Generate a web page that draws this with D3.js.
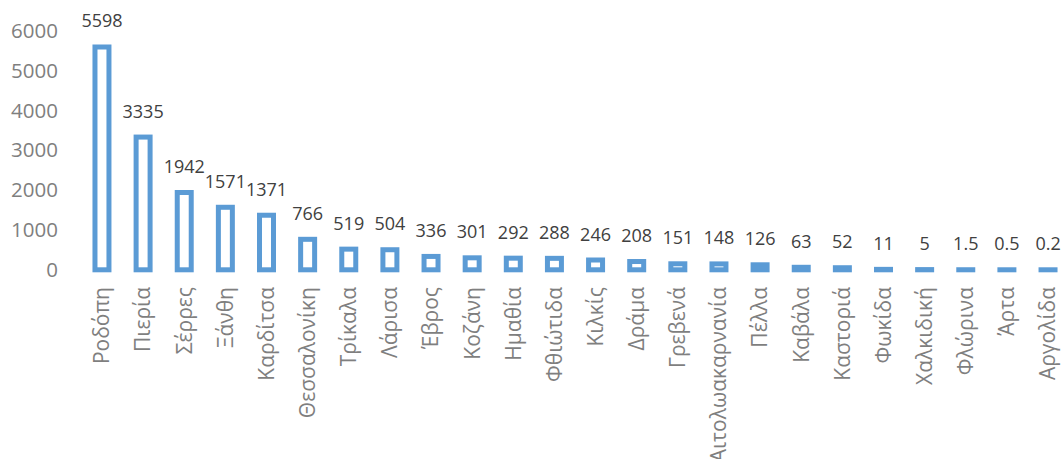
<!DOCTYPE html>
<html>
<head>
<meta charset="utf-8">
<script src="https://cdn.jsdelivr.net/npm/d3@7"></script>
<style>
  html, body { margin: 0; padding: 0; background: #fff; }
  svg { display: block; font-family: "Open Sans", "Noto Sans", sans-serif; }
</style>
</head>
<body>
<svg id="chart" width="1063" height="459"></svg>
<script>
// Prefectures and their values
const categories = [
  "Ροδόπη", "Πιερία", "Σέρρες", "Ξάνθη", "Καρδίτσα", "Θεσσαλονίκη",
  "Τρίκαλα", "Λάρισα", "Έβρος", "Κοζάνη", "Ημαθία", "Φθιώτιδα",
  "Κιλκίς", "Δράμα", "Γρεβενά", "Αιτολωακαρνανία", "Πέλλα", "Καβάλα",
  "Καστοριά", "Φωκίδα", "Χαλκιδική", "Φλώρινα", "Άρτα", "Αργολίδα"
];
const values = [
  5598, 3335, 1942, 1571, 1371, 766,
  519, 504, 336, 301, 292, 288,
  246, 208, 151, 148, 126, 63,
  52, 11, 5, 1.5, 0.5, 0.2
];
const yTicks = [0, 1000, 2000, 3000, 4000, 5000, 6000];

const data = categories.map((c, i) => ({ name: c, value: values[i] }));

const svg = d3.select("#chart");

const x = d3.scaleBand()
  .domain(categories)
  .range([81.4, 1068.6])
  .paddingInner(0.66)
  .paddingOuter(0.33);

const y = d3.scaleLinear()
  .domain([0, 6000])
  .range([269.8, 31]);

// Y axis labels (no axis line or gridlines)
const yAxis = d3.axisLeft(y).tickValues(yTicks).tickFormat(d3.format("d")).tickSize(0).tickPadding(0);
const gy = svg.append("g").attr("transform", "translate(58,0)").call(yAxis);
gy.select(".domain").remove();
gy.selectAll("text")
  .attr("fill", "#7f7f7f")
  .style("font-size", "20.5px")
  .style("font-family", "'Open Sans', 'Noto Sans', sans-serif");

// Outlined bars
svg.append("g")
  .selectAll("rect")
  .data(data)
  .join("rect")
  .attr("x", d => x(d.name))
  .attr("y", d => y(d.value))
  .attr("width", x.bandwidth())
  .attr("height", d => y(0) - y(d.value))
  .attr("fill", "#ffffff")
  .attr("stroke", "#5b9bd5")
  .attr("stroke-width", 5);

// Value labels above bars
svg.append("g")
  .selectAll("text")
  .data(data)
  .join("text")
  .attr("x", d => x(d.name) + x.bandwidth() / 2)
  .attr("y", d => y(d.value) - 19.5)
  .attr("text-anchor", "middle")
  .attr("fill", "#404040")
  .style("font-size", "18px")
  .text(d => String(d.value));

// Rotated category labels
const xAxis = d3.axisBottom(x).tickSize(0).tickPadding(0);
const gx = svg.append("g").attr("transform", "translate(0,287)").call(xAxis);
gx.select(".domain").remove();
gx.selectAll("text")
  .attr("fill", "#7f7f7f")
  .style("font-size", "21px")
  .style("font-family", "'Open Sans', 'Noto Sans', sans-serif")
  .attr("text-anchor", "end")
  .attr("transform", "rotate(-90)")
  .attr("x", 0)
  .attr("y", 0)
  .attr("dx", 0)
  .attr("dy", "0.35em");
</script>
</body>
</html>
